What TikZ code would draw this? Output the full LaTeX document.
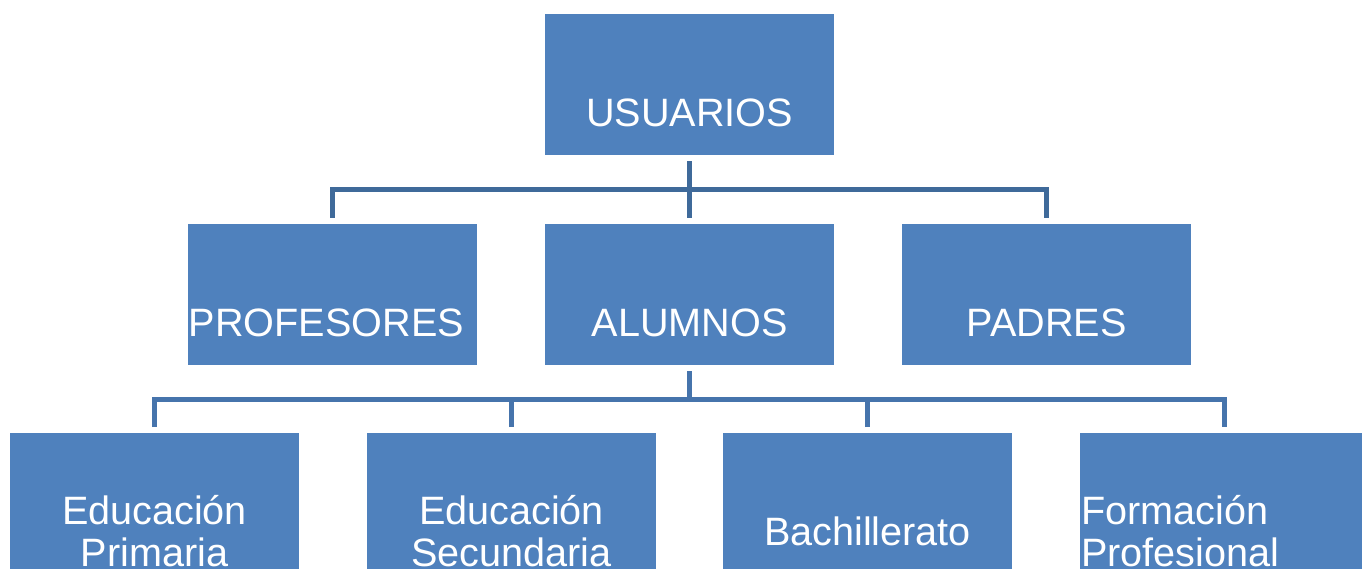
\documentclass[tikz,border=0pt]{standalone}
\usepackage{fontspec}
\setmainfont{Liberation Sans}
\usetikzlibrary{calc}
\definecolor{boxblue}{HTML}{4F81BD}
\definecolor{lineA}{HTML}{3F6A9A}
\definecolor{lineB}{HTML}{4674AC}
\tikzset{
  box/.style={draw=none, fill=boxblue, minimum width=289pt, minimum height=141pt, inner sep=0pt, anchor=north},
  lbl/.style={text=white, font=\fontsize{39.6}{42}\selectfont, inner sep=0pt},
  connA/.style={draw=lineA, line width=5pt},
  connB/.style={draw=lineB, line width=5pt}
}
\begin{document}
\begin{tikzpicture}[x=1pt,y=-1pt]
\useasboundingbox (0,0) rectangle (1362,569);
% boxes
\node[box] (usu) at (689.5,14) {};
\node[box] (prof) at (332.5,224) {};
\node[box] (alu) at (689.5,224) {};
\node[box] (padr) at (1046.5,224) {};
\node[box] (ep) at (154.5,433) {};
\node[box] (es) at (511.5,433) {};
\node[box] (bach) at (867.5,433) {};
\node[box] (fp) at (1224.5,433) {};
% labels
\node[lbl, anchor=base] (tusu) at ($(usu.north)+(0,112.5)$) {USUARIOS};
\node[lbl, anchor=base] (tprof) at ($(prof.north)+(-6,112.5)$) {PROFESORES};
\node[lbl, anchor=base] (talu) at ($(alu.north)+(0,112.5)$) {ALUMNOS};
\node[lbl, anchor=base] (tpadr) at ($(padr.north)+(0,112.5)$) {PADRES};
\node[lbl, anchor=base] (tbach) at ($(bach.north)+(0,112)$) {Bachillerato};
\node[lbl, anchor=base, align=center] (tep) at ($(ep.north)+(0,133)$) {Educación\\Primaria};
\node[lbl, anchor=base, align=center] (tes) at ($(es.north)+(0,133)$) {Educación\\Secundaria};
\node[lbl, anchor=base west, align=left] (tfp) at ($(fp.north west)+(1,133)$) {Formación\\Profesional};
% connectors level 1
\draw[connA] ($(usu.south)+(0,6)$) -- ($(alu.north)+(0,-6)$);
\draw[connA] ($(prof.north)+(0,-6)$) |- ($(padr.north)+(0,-34)$) -- ($(padr.north)+(0,-6)$);
% connectors level 2
\draw[connB] ($(alu.south)+(0,6)$) -- ($(alu.south)+(0,34)$);
\draw[connB] ($(ep.north)+(0,-6)$) |- ($(fp.north)+(0,-34)$) -- ($(fp.north)+(0,-6)$);
\draw[connB] ($(es.north)+(0,-6)$) -- ($(es.north)+(0,-34)$);
\draw[connB] ($(bach.north)+(0,-6)$) -- ($(bach.north)+(0,-34)$);
\end{tikzpicture}
\end{document}
